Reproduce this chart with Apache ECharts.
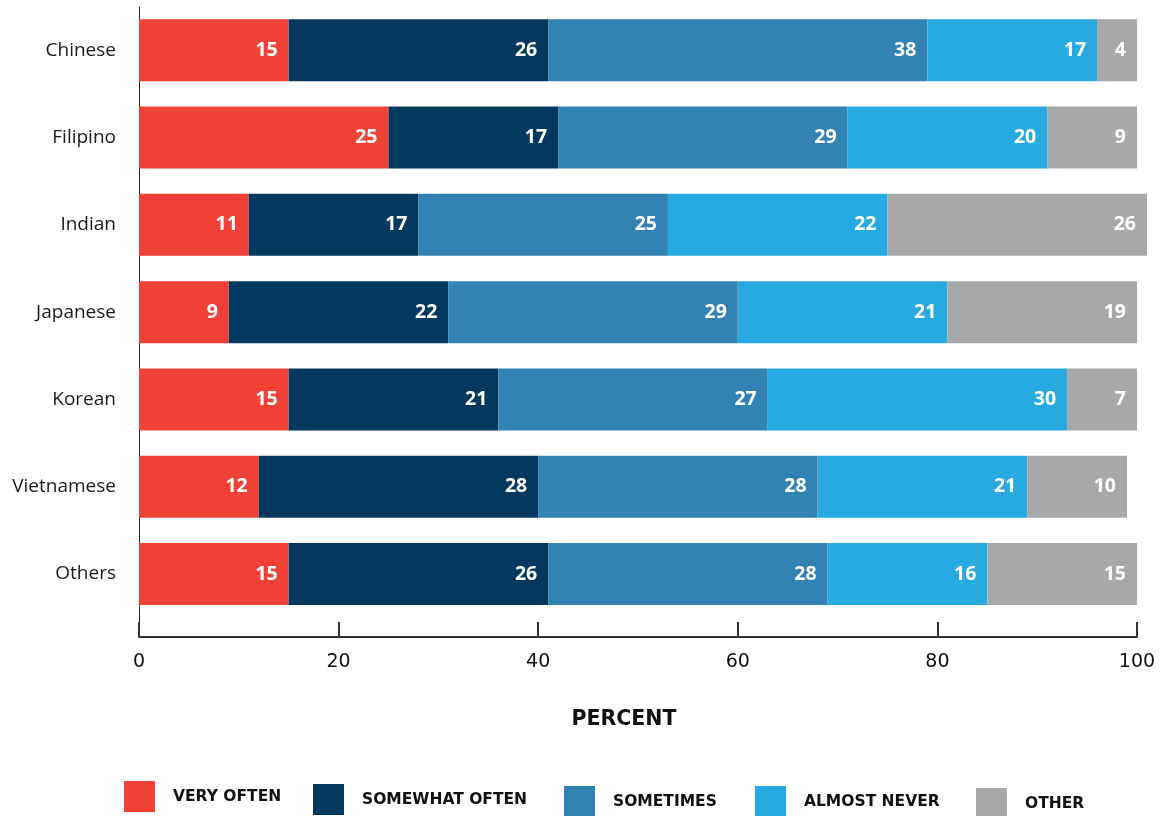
<!DOCTYPE html>
<html>
<head>
<meta charset="utf-8">
<script src="https://cdn.jsdelivr.net/npm/echarts@6/dist/echarts.min.js"></script>
<style>
  html, body { margin: 0; padding: 0; background: #ffffff; }
  #chart { width: 1164px; height: 816px; }
</style>
</head>
<body>
<div id="chart"></div>
<script>
const categories = ["Chinese", "Filipino", "Indian", "Japanese", "Korean", "Vietnamese", "Others"];
const veryOften     = [15, 25, 11, 9, 15, 12, 15];
const somewhatOften = [26, 17, 17, 22, 21, 28, 26];
const sometimes     = [38, 29, 25, 29, 27, 28, 28];
const almostNever   = [17, 20, 22, 21, 30, 21, 16];
const other         = [4, 9, 26, 19, 7, 10, 15];
const seriesNames = ["VERY OFTEN", "SOMEWHAT OFTEN", "SOMETIMES", "ALMOST NEVER", "OTHER"];
const xTicks = [0, 20, 40, 60, 80, 100];
const axisTitle = "PERCENT";

const colors = ["#EF4136", "#04395F", "#3283B4", "#27A9E1", "#A7A8AA"];
const seriesData = [veryOften, somewhatOften, sometimes, almostNever, other];

const chart = echarts.init(document.getElementById('chart'), null, { renderer: 'canvas' });

const legendPos = [
  { left: 124, top: 781 },
  { left: 313, top: 784 },
  { left: 564, top: 786 },
  { left: 755, top: 786 },
  { left: 976, top: 788 }
];

const legends = seriesNames.map((name, i) => ({
  data: [name],
  left: legendPos[i].left,
  top: legendPos[i].top,
  padding: 0,
  orient: 'horizontal',
  icon: 'rect',
  itemWidth: 31,
  itemHeight: 31,
  selectedMode: false,
  textStyle: {
    fontFamily: 'DejaVu Sans',
    fontWeight: 'bold',
    fontSize: 15.5,
    color: '#111111',
    padding: [10, 0, 0, 13]
  }
}));

const series = seriesNames.map((name, i) => ({
  name: name,
  type: 'bar',
  stack: 'total',
  xAxisIndex: 0,
  yAxisIndex: 0,
  barWidth: 62,
  clip: false,
  itemStyle: { color: colors[i] },
  label: {
    show: true,
    position: 'insideRight',
    distance: 11,
    color: '#ffffff',
    fontFamily: 'Open Sans',
    fontWeight: 'bold',
    fontSize: 19.5
  },
  data: seriesData[i]
}));

chart.setOption({
  animation: false,
  backgroundColor: '#ffffff',
  color: colors,
  legend: legends,
  grid: [
    { left: 139, right: 27, top: 6.6, bottom: 198.3, containLabel: false },
    { left: 139, right: 27, top: 7, bottom: 179, containLabel: false }
  ],
  xAxis: [
    { type: 'value', gridIndex: 0, min: 0, max: 100, interval: 20, show: false },
    {
      type: 'value', gridIndex: 1, min: 0, max: 100, interval: 20,
      axisLine: { show: true, lineStyle: { color: '#333333', width: 2 } },
      axisTick: { show: true, inside: true, length: 15, lineStyle: { color: '#333333', width: 2 } },
      axisLabel: {
        show: true, margin: 16,
        fontFamily: 'DejaVu Sans', fontSize: 19, color: '#111111',
        formatter: function (v) { return xTicks.indexOf(v) >= 0 ? String(v) : ''; }
      },
      splitLine: { show: false },
      name: axisTitle,
      nameLocation: 'middle',
      nameGap: 72,
      nameTextStyle: { fontFamily: 'DejaVu Sans', fontWeight: 'bold', fontSize: 20.5, color: '#111111', padding: [0, 28, 0, 0] }
    }
  ],
  yAxis: [
    {
      type: 'category', gridIndex: 0, data: categories, inverse: true,
      axisLine: { show: false }, axisTick: { show: false },
      axisLabel: { show: true, margin: 23, fontFamily: 'Open Sans', fontSize: 19, color: '#1a1a1a' }
    },
    {
      type: 'value', gridIndex: 1, min: 0, max: 1,
      axisLine: { show: true, lineStyle: { color: '#222222', width: 1 } },
      axisTick: { show: false }, axisLabel: { show: false }, splitLine: { show: false }
    }
  ],
  series: series
});
</script>
</body>
</html>
